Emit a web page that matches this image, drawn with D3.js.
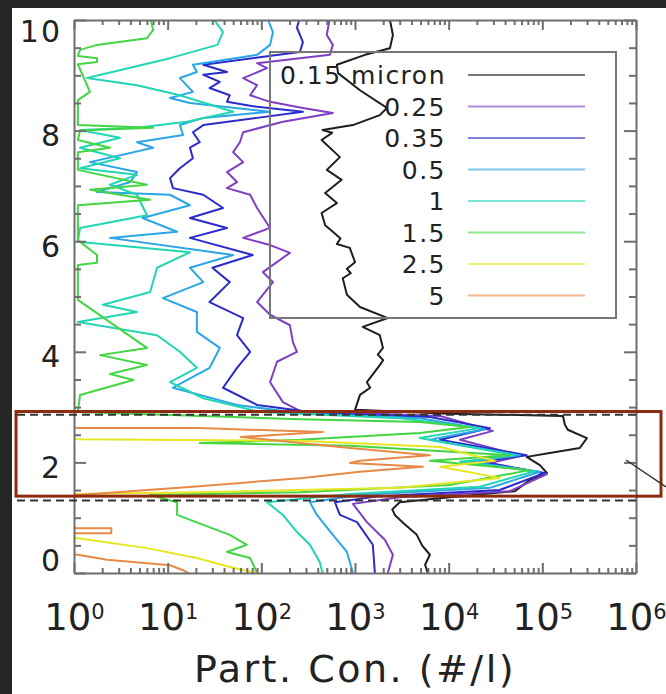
<!DOCTYPE html>
<html>
<head>
<meta charset="utf-8">
<script src="https://cdn.jsdelivr.net/npm/d3@7"></script>
<style>
  body { margin: 0; background: #262626; }
  svg { display: block; }
  text { font-family: "DejaVu Sans", sans-serif; fill: #222; }
</style>
</head>
<body>
<div id="chart"></div>
<script>
// particle sizes (legend labels) and colours
const sizeLabels = ["0.15 micron", "0.25", "0.35", "0.5", "1", "1.5", "2.5", "5"];
const sizeColors = ["#1e1e1e", "#7f3fc4", "#2b2bcc", "#2aa6e6", "#22d6b4", "#44d544", "#e6e622", "#e68a46"];

// profiles: [altitude km, concentration #/l]
const p015 = [[10.0,2360],[9.73,2540],[9.49,2360],[9.37,1280],[9.19,640],[9.04,660],[8.73,1130],[8.41,2190],
  [8.28,1840],[8.10,950],[8.01,450],[7.96,570],[7.83,440],[7.52,690],[7.29,500],[7.11,720],[6.87,480],
  [6.69,640],[6.51,440],[6.29,480],[6.17,580],[6.05,700],[5.95,640],[5.88,880],[5.62,1000],[5.50,820],
  [5.42,900],[5.33,740],[5.03,820],[4.81,1130],[4.61,2240],[4.45,1210],[4.30,1840],[4.07,1990],[3.95,1750],
  [3.85,2000],[3.76,1840],[3.45,1340],[3.35,1450],[3.22,1130],[2.95,1000],
  [2.88,10300],[2.84,166000],[2.68,174000],[2.59,187000],[2.44,299000],[2.26,251000],[2.17,120000],
  [2.10,68000],[1.95,94000],[1.81,112000],[1.68,73000],[1.48,51000],[1.37,10300],[1.28,3000],
  [1.15,2500],[1.05,2660],[0.90,3300],[0.69,4570],[0.50,5200],[0.33,6300],[0.15,5600],[0.0,6000]];
const p025 = [[10.05,540],[9.73,500],[9.55,580],[9.37,540],[9.22,90],[9.13,115],[8.95,64],[8.82,90],
  [8.64,76],[8.52,124],[8.41,278],[8.32,580],[8.16,170],[7.97,64],[7.79,59],[7.61,50],[7.43,64],
  [7.25,43],[7.07,55],[6.96,43],[6.84,76],[6.60,90],[6.24,124],[6.06,64],[5.93,124],[5.79,202],
  [5.44,104],[5.26,133],[4.90,90],[4.67,124],[4.48,202],[4.18,217],[4.00,240],[3.82,147],[3.45,124],
  [3.09,170],[2.93,258],[2.84,8100],[2.57,29600],[2.41,13200],[2.12,60400],[1.99,27500],[1.79,112000],
  [1.48,45000],[1.37,3000],[1.25,950],[0.92,1340],[0.60,2080],[0.33,2540],[0.0,2240]];
const p035 = [[10.05,258],[9.86,240],[9.60,278],[9.42,258],[9.19,24],[9.06,43],[9.01,24],[8.88,36],
  [8.77,28],[8.64,46],[8.52,43],[8.43,90],[8.34,278],[8.23,90],[8.10,24],[7.97,18.6],[7.79,22],
  [7.69,17.3],[7.50,18.6],[7.32,13.5],[7.14,10.6],[6.96,11.4],[6.84,24],[6.60,39],[6.42,17.3],
  [6.24,43],[6.06,17.3],[5.75,81],[5.52,30],[5.26,46],[4.90,28],[4.61,64],[4.30,55],[4.00,76],
  [3.71,55],[3.35,39],[3.04,90],[2.89,420],[2.82,6300],[2.62,27500],[2.41,8100],[2.13,68000],
  [2.01,21500],[1.81,106000],[1.50,35000],[1.39,1840],[1.28,610],[1.05,690],[0.92,1050],[0.51,1550],[0.0,1630]];
const p05 = [[10.05,115],[9.78,133],[9.55,124],[9.37,90],[9.19,18.6],[9.06,20.5],[8.95,13.5],[8.70,18.6],
  [8.59,10.6],[8.50,17.3],[8.34,124],[8.23,24],[8.10,13.5],[7.92,14.6],[7.79,4.7],[7.69,7.0],[7.43,1.48],
  [7.25,4.7],[7.07,4.0],[6.89,1.76],[6.84,10.6],[6.65,17.3],[6.42,5.4],[6.17,12.6],[6.06,2.42],[5.75,50],
  [5.52,17.3],[5.26,24],[4.97,8.9],[4.72,20.5],[4.36,20.5],[4.07,36],[3.71,28],[3.35,11.4],[3.04,55],
  [2.89,258],[2.80,4900],[2.60,24300],[2.41,6300],[2.13,57500],[2.01,16800],[1.83,94000],[1.54,27500],
  [1.41,1130],[1.28,330],[1.05,392],[0.69,580],[0.38,820],[0.0,950]];
const p1 = [[10.05,30],[9.78,39],[9.55,34],[9.31,10.6],[8.95,1.38],[8.82,4.7],[8.64,13.5],[8.34,50],
  [8.16,16],[8.05,4.7],[8.01,1.16],[7.87,3.1],[7.69,1.16],[7.50,3.1],[7.32,1.16],[7.20,4.7],[7.02,2.42],
  [6.84,4.7],[6.47,6.0],[6.24,1.16],[5.99,1.1],[5.80,17.3],[5.52,7.7],[5.08,6.5],[4.85,2.04],[4.72,4.7],
  [4.54,1.1],[4.30,7.7],[4.00,13.5],[3.71,20.5],[3.45,10.6],[3.16,24],[2.91,97],[2.80,3000],[2.62,21500],
  [2.44,4900],[2.13,50800],[2.01,13200],[1.84,83000],[1.56,21500],[1.43,880],[1.28,115],[1.05,170],
  [0.74,240],[0.51,330],[0.20,420],[0.0,450]];
const p15 = [[10.05,6.5],[9.82,7.0],[9.67,6.0],[9.55,1.76],[9.46,1.16],[9.35,1.1],[9.31,1.76],[9.24,1.76],
  [9.20,1.1],[8.70,1.48],[8.55,1.1],[8.10,1.1],[8.05,7.0],[8.00,1.16],[7.83,1.1],[7.69,2.42],[7.61,1.1],
  [7.29,1.1],[7.02,6.0],[6.93,1.48],[6.75,6.5],[6.65,1.1],[6.02,1.1],[5.75,1.76],[5.61,1.76],[5.57,1.1],
  [4.94,1.1],[4.07,6.0],[3.94,1.9],[3.76,6.0],[3.60,2.42],[3.49,4.3],[3.22,1.16],[2.91,1.1],[2.78,258],
  [2.73,4900],[2.64,16800],[2.53,4900],[2.41,258],[2.35,22],[2.30,880],[2.13,45000],[2.03,6300],
  [1.86,73000],[1.59,10300],[1.46,258],[1.41,6.5],[1.28,12.6],[1.05,12.6],[0.87,24],[0.69,46],
  [0.51,70],[0.38,43],[0.27,76],[0.0,90]];
const p25 = [[2.48,0.5],[2.42,1.1],[2.39,258],[2.28,8100],[2.03,31100],[1.92,8100],[1.72,35200],
  [1.54,3000],[1.46,22],[1.43,1.1],[1.36,0.5],[0.65,0.5],[0.63,1.1],[0.45,6.0],[0.27,20.5],[0.11,46],[0.0,90]];
const p5 = [[2.75,0.5],[2.62,1.1],[2.62,22],[2.55,454],[2.46,60],[2.26,883],[2.13,6300],[2.03,1130],
  [1.99,883],[1.92,5300],[1.83,1130],[1.72,278],[1.57,22],[1.41,1.1],[1.36,0.5],[0.85,0.5],[0.81,1.1],
  [0.81,2.5],[0.72,2.5],[0.72,1.1],[0.70,0.5],[0.36,0.5],[0.33,1.1],[0.24,2.25],[0.14,10.6],[0.05,14.6],[-0.02,17.3]];
const profiles = [p015, p025, p035, p05, p1, p15, p25, p5];

// axes
const xTickExp = [0, 1, 2, 3, 4, 5, 6];
const yTicks = [0, 2, 4, 6, 8, 10];
const layerAlt = [1.31, 2.86];   // dashed lines
const boxAlt = [1.39, 2.92];     // red annotation box

const W = 666, H = 694;
const plot = { left: 74, right: 636, top: 20, bottom: 573 };

const svg = d3.select("#chart").append("svg").attr("width", W).attr("height", H);
svg.append("rect").attr("width", W).attr("height", H).attr("fill", "#262626");
svg.append("rect").attr("x", 12).attr("y", 8).attr("width", W - 12).attr("height", H - 8).attr("fill", "#fff");

const x = d3.scaleLog().domain([1, 1e6]).range([plot.left, plot.right]);
const y = d3.scaleLinear().domain([0, 10]).range([plot.bottom, plot.top]);

svg.append("clipPath").attr("id", "clip").append("rect")
  .attr("x", plot.left).attr("y", plot.top)
  .attr("width", plot.right - plot.left).attr("height", plot.bottom - plot.top);

const line = d3.line().x(d => x(d[1])).y(d => y(d[0]));

svg.append("g").attr("clip-path", "url(#clip)")
  .selectAll("path")
  .data(profiles)
  .join("path")
  .attr("d", line)
  .attr("fill", "none")
  .attr("stroke", (d, i) => sizeColors[i])
  .attr("stroke-width", 2)
  .attr("stroke-linejoin", "round");

// axes (ticks drawn inward like IDL)
const majorX = xTickExp.map(e => Math.pow(10, e));
const minorX = [];
for (let e = 0; e < 6; e++) for (let m = 2; m <= 9; m++) minorX.push(m * Math.pow(10, e));
const minorY = d3.range(0, 10.01, 0.5).filter(v => yTicks.indexOf(v) < 0);

function styleAxis(g) {
  g.selectAll(".domain, .tick line").attr("stroke", "#6e6e6e").attr("stroke-width", 2);
}

const gx = svg.append("g").attr("transform", `translate(0,${plot.bottom})`)
  .call(d3.axisBottom(x).tickValues(majorX).tickSizeInner(-10).tickSizeOuter(0).tickPadding(31));
gx.call(styleAxis);
gx.selectAll(".tick text").each(function(d) {
  const t = d3.select(this).text(null).attr("font-size", 37).attr("fill", "#222");
  t.append("tspan").text("10");
  t.append("tspan").attr("dy", "-0.55em").attr("font-size", 21).text(Math.round(Math.log10(d)));
});
svg.append("g").attr("transform", `translate(0,${plot.bottom})`)
  .call(d3.axisBottom(x).tickValues(minorX).tickSizeInner(-5).tickSizeOuter(0).tickFormat(""))
  .call(styleAxis).select(".domain").remove();

svg.append("g").attr("transform", `translate(0,${plot.top})`)
  .call(d3.axisTop(x).tickValues(majorX).tickSizeInner(-10).tickSizeOuter(0).tickFormat(""))
  .call(styleAxis);
svg.append("g").attr("transform", `translate(0,${plot.top})`)
  .call(d3.axisTop(x).tickValues(minorX).tickSizeInner(-5).tickSizeOuter(0).tickFormat(""))
  .call(styleAxis).select(".domain").remove();

const gy = svg.append("g").attr("transform", `translate(${plot.left},0)`)
  .call(d3.axisLeft(y).tickValues(yTicks).tickSizeInner(-12).tickSizeOuter(0).tickPadding(12));
gy.call(styleAxis);
gy.selectAll(".tick text").attr("font-size", 30).attr("letter-spacing", 2).attr("fill", "#222")
  .attr("dy", d => d === 0 ? "-0.1em" : d === 10 ? "0.72em" : "0.5em");
svg.append("g").attr("transform", `translate(${plot.left},0)`)
  .call(d3.axisLeft(y).tickValues(minorY).tickSizeInner(-7).tickSizeOuter(0).tickFormat(""))
  .call(styleAxis).select(".domain").remove();

svg.append("g").attr("transform", `translate(${plot.right},0)`)
  .call(d3.axisRight(y).tickValues(yTicks).tickSizeInner(-12).tickSizeOuter(0).tickFormat(""))
  .call(styleAxis);
svg.append("g").attr("transform", `translate(${plot.right},0)`)
  .call(d3.axisRight(y).tickValues(minorY).tickSizeInner(-7).tickSizeOuter(0).tickFormat(""))
  .call(styleAxis).select(".domain").remove();

svg.append("text")
  .attr("x", 355).attr("y", 682)
  .attr("text-anchor", "middle")
  .attr("font-size", 38).attr("letter-spacing", 2.5)
  .text("Part. Con. (#/l)");

// legend
const legend = svg.append("g");
legend.append("rect").attr("x", 270).attr("y", 52).attr("width", 346).attr("height", 266)
  .attr("fill", "none").attr("stroke", "#777").attr("stroke-width", 2);
const rows = legend.selectAll("g.row").data(sizeLabels).join("g")
  .attr("class", "row")
  .attr("transform", (d, i) => `translate(0,${75 + i * 31.5})`);
rows.append("text").attr("x", 446).attr("dy", "0.36em").attr("text-anchor", "end")
  .attr("font-size", 25).attr("letter-spacing", 1.5).text(d => d);
rows.append("line").attr("x1", 468).attr("x2", 585)
  .attr("stroke", (d, i) => sizeColors[i]).attr("stroke-width", 2).attr("opacity", 0.6);

// layer markers
svg.selectAll("line.layer").data(layerAlt).join("line")
  .attr("class", "layer")
  .attr("x1", 17).attr("x2", 640)
  .attr("y1", d => y(d)).attr("y2", d => y(d))
  .attr("stroke", "#333").attr("stroke-width", 2).attr("stroke-dasharray", "8,5");

svg.append("rect")
  .attr("x", 16).attr("y", y(boxAlt[1]))
  .attr("width", 645).attr("height", y(boxAlt[0]) - y(boxAlt[1]))
  .attr("fill", "none").attr("stroke", "#8c2a12").attr("stroke-width", 3);

svg.append("line").attr("x1", 626).attr("y1", 460).attr("x2", 666).attr("y2", 487)
  .attr("stroke", "#333").attr("stroke-width", 1.5);
</script>
</body>
</html>
